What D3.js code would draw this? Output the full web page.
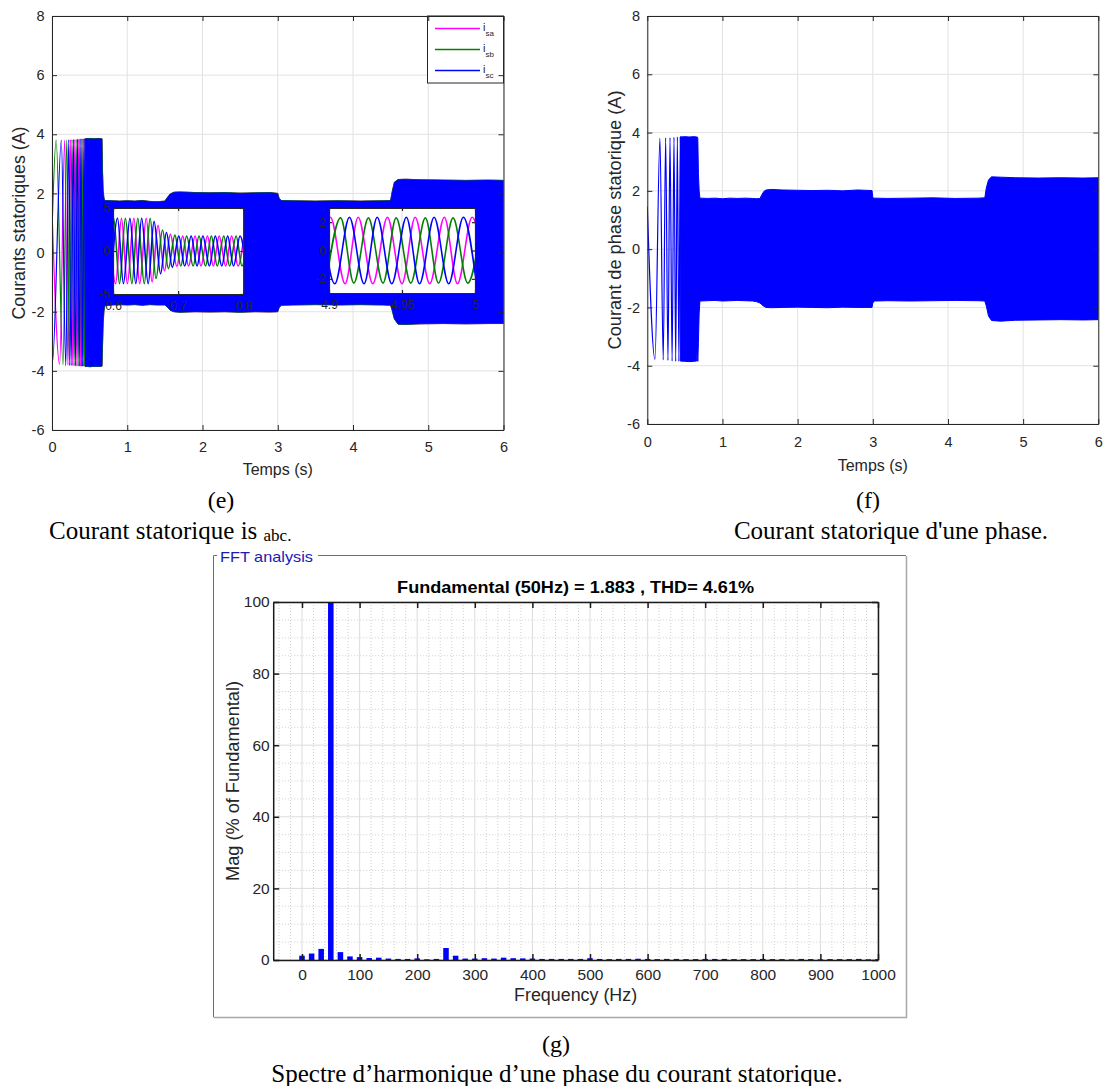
<!DOCTYPE html>
<html>
<head>
<meta charset="utf-8">
<script src="https://cdn.jsdelivr.net/npm/d3@7"></script>
<style>
  body { margin: 0; background: #ffffff; }
  svg { display: block; }
</style>
</head>
<body>
<svg id="fig" width="1104" height="1086"></svg>
<script>
const SANS = '"Liberation Sans", Arial, Helvetica, sans-serif';
const SERIF = '"Liberation Serif", "Times New Roman", serif';
const INK = '#262626';

// ---------------- time-domain data ----------------
const timeTicks = [0, 1, 2, 3, 4, 5, 6];
const currentTicks = [-6, -4, -2, 0, 2, 4, 6, 8];
const phaseLabels = ['sa', 'sb', 'sc'];
const phaseColors = ['#ff00ff', '#008000', '#0000ff'];

// start-up swings (time s, current A) at each visible extremum, phases a, b, c
const startA = [[0, 1.46], [0.102, -3.78], [0.168, 3.8], [0.212, -3.8], [0.244, 3.82], [0.275, -3.82], [0.302, 3.83],
  [0.33, -3.84], [0.355, 3.84], [0.378, -3.85], [0.4, 3.85], [0.42, -3.85], [0.44, 3.85], [0.46, -3.85]];
const startB = [[0, 0.7], [0.055, 3.8], [0.146, -3.8], [0.197, 3.8], [0.233, -3.82], [0.265, 3.82], [0.293, -3.83],
  [0.321, 3.83], [0.347, -3.84], [0.37, 3.84], [0.393, -3.85], [0.413, 3.85], [0.433, -3.85], [0.453, 3.85], [0.473, -3.85]];
const startC = [[0, -3.2], [0.006, -3.72], [0.124, 3.8], [0.183, -3.82], [0.223, 3.82], [0.254, -3.82], [0.284, 3.83],
  [0.311, -3.83], [0.338, 3.84], [0.363, -3.84], [0.385, 3.85], [0.407, -3.85], [0.427, 3.85], [0.447, -3.85], [0.467, 3.85]];

// steady-state envelope of the three stator currents (upper / lower peaks)
const envAbcTime = [0.44, 0.5, 0.56, 0.62, 0.665, 0.672, 0.68, 0.69, 0.70, 0.8, 0.9, 1.0, 1.1, 1.2, 1.3, 1.4, 1.5,
  1.53, 1.57, 1.62, 1.7, 1.9, 2.1, 2.3, 2.5, 2.7, 2.9, 3.0, 3.02, 3.05, 3.2, 3.5, 3.8, 4.1, 4.4, 4.5,
  4.52, 4.55, 4.6, 4.7, 4.9, 5.2, 5.5, 5.8, 6.0];
const envAbcHigh = [3.85, 3.86, 3.85, 3.86, 3.85, 2.7, 2.1, 1.85, 1.76, 1.75, 1.74, 1.75, 1.74, 1.76, 1.73, 1.72, 1.74,
  1.85, 1.98, 2.04, 2.05, 2.03, 2.02, 2.03, 2.01, 2.02, 2.03, 2.0, 1.82, 1.76, 1.75, 1.74, 1.75, 1.74, 1.75, 1.76,
  2.05, 2.38, 2.47, 2.48, 2.46, 2.45, 2.44, 2.45, 2.44];
const envAbcLow = [-3.84, -3.86, -3.85, -3.85, -3.84, -3.1, -2.4, -2.0, -1.8, -1.77, -1.76, -1.77, -1.76, -1.78, -1.76, -1.77, -1.77,
  -1.84, -1.95, -2.0, -2.02, -2.0, -2.01, -2.0, -2.02, -2.0, -2.01, -2.0, -1.85, -1.78, -1.77, -1.76, -1.77, -1.76, -1.77, -1.78,
  -1.95, -2.25, -2.42, -2.43, -2.41, -2.4, -2.41, -2.4, -2.4];

// envelope of the single phase current
const envPhaseTime = [0.44, 0.5, 0.56, 0.62, 0.655, 0.665, 0.672, 0.68, 0.69, 0.70, 0.8, 0.9, 1.0, 1.1, 1.2, 1.3, 1.4,
  1.45, 1.5, 1.52, 1.55, 1.58, 1.65, 1.8, 2.0, 2.2, 2.4, 2.6, 2.8, 2.99, 3.0, 3.02, 3.2, 3.5, 3.8, 4.1, 4.4, 4.49,
  4.51, 4.54, 4.58, 4.7, 4.9, 5.2, 5.5, 5.8, 6.0];
const envPhaseHigh = [3.85, 3.86, 3.85, 3.86, 3.85, 3.85, 3.8, 2.6, 2.0, 1.75, 1.74, 1.75, 1.73, 1.75, 1.74, 1.75, 1.74,
  1.73, 1.74, 1.85, 1.98, 2.03, 2.05, 2.03, 2.02, 2.01, 2.02, 2.0, 2.03, 2.01, 1.76, 1.75, 1.74, 1.75, 1.76, 1.74, 1.75, 1.76,
  2.1, 2.38, 2.48, 2.47, 2.45, 2.44, 2.45, 2.44, 2.45];
const envPhaseLow = [-3.84, -3.85, -3.86, -3.85, -3.84, -3.3, -3.85, -3.2, -2.2, -1.78, -1.77, -1.76, -1.78, -1.77, -1.76, -1.77, -1.78,
  -1.8, -1.85, -1.9, -1.96, -2.0, -2.01, -2.0, -1.99, -2.0, -2.01, -1.99, -2.0, -2.0, -1.85, -1.78, -1.77, -1.78, -1.77, -1.76, -1.77, -1.78,
  -1.95, -2.3, -2.45, -2.47, -2.44, -2.43, -2.42, -2.43, -2.42];

// zoom 0.6 s - 0.8 s : extrema of each phase
const zoomLoadA = [[0.594, 3.8], [0.604, -3.8], [0.613, 3.8], [0.622, -3.8], [0.632, 3.8], [0.641, -3.8], [0.651, 3.8],
  [0.660, -3.6], [0.669, 3.0], [0.679, -2.3], [0.688, 1.95], [0.698, -1.8], [0.707, 1.75], [0.716, -1.75], [0.726, 1.75],
  [0.735, -1.75], [0.745, 1.75], [0.754, -1.75], [0.763, 1.75], [0.773, -1.75], [0.782, 1.75], [0.792, -1.75], [0.801, 1.75]];
const zoomLoadB = [[0.591, -3.8], [0.601, 3.8], [0.610, -3.8], [0.619, 3.8], [0.629, -3.8], [0.638, 3.8], [0.648, -3.8],
  [0.657, 3.8], [0.666, -3.2], [0.676, 2.45], [0.685, -2.05], [0.695, 1.85], [0.704, -1.75], [0.713, 1.75], [0.723, -1.75],
  [0.732, 1.75], [0.742, -1.75], [0.751, 1.75], [0.760, -1.75], [0.770, 1.75], [0.779, -1.75], [0.789, 1.75], [0.798, -1.75], [0.807, 1.75]];
const zoomLoadC = [[0.597, -3.8], [0.607, 3.8], [0.616, -3.8], [0.626, 3.8], [0.635, -3.8], [0.644, 3.8], [0.654, -3.8],
  [0.663, 3.45], [0.673, -2.65], [0.682, 2.15], [0.691, -1.9], [0.701, 1.75], [0.710, -1.75], [0.720, 1.75], [0.729, -1.75],
  [0.738, 1.75], [0.748, -1.75], [0.757, 1.75], [0.767, -1.75], [0.776, 1.75], [0.785, -1.75], [0.795, 1.75], [0.804, -1.75]];

// zoom 4.9 s - 5.0 s : extrema of each phase
const zoomSteadyA = [[4.891, -2.35], [4.901, 2.35], [4.911, -2.35], [4.920, 2.35], [4.930, -2.35], [4.940, 2.35], [4.950, -2.35],
  [4.959, 2.35], [4.969, -2.35], [4.979, 2.35], [4.988, -2.35], [4.998, 2.35], [5.008, -2.35]];
const zoomSteadyB = [[4.898, -2.3], [4.908, 2.3], [4.917, -2.3], [4.927, 2.3], [4.937, -2.3], [4.946, 2.3], [4.956, -2.3],
  [4.966, 2.3], [4.975, -2.3], [4.985, 2.3], [4.995, -2.3], [5.005, 2.3]];
const zoomSteadyC = [[4.895, 2.35], [4.904, -2.35], [4.914, 2.35], [4.924, -2.35], [4.933, 2.35], [4.943, -2.35], [4.953, 2.35],
  [4.962, -2.35], [4.972, 2.35], [4.982, -2.35], [4.992, 2.35], [5.001, -2.35]];

// ---------------- spectrum data ----------------
const fftFreq = [0, 16.7, 33.3, 50, 66.7, 83.3, 100, 116.7, 133.3, 150, 166.7, 183.3, 200, 216.7, 233.3, 250,
  266.7, 283.3, 300, 316.7, 333.3, 350, 366.7, 383.3, 400, 416.7, 433.3, 450, 466.7, 483.3, 500, 516.7, 533.3,
  550, 566.7, 583.3, 600, 616.7, 633.3, 650, 666.7, 683.3, 700, 716.7, 733.3, 750, 766.7, 783.3, 800, 816.7,
  833.3, 850, 866.7, 883.3, 900, 916.7, 933.3, 950, 966.7, 983.3, 1000];
const fftMag = [1.2, 1.8, 3.1, 100, 2.2, 1.0, 0.8, 0.55, 0.65, 0.4, 0.3, 0.3, 0.45, 0.2, 0.3, 3.35,
  1.2, 0.4, 0.4, 0.5, 0.4, 0.65, 0.5, 0.45, 0.4, 0.3, 0.3, 0.3, 0.3, 0.3, 0.5, 0.3, 0.25,
  0.3, 0.3, 0.35, 0.3, 0.25, 0.3, 0.3, 0.25, 0.25, 0.3, 0.3, 0.3, 0.25, 0.25, 0.25, 0.3, 0.25,
  0.25, 0.2, 0.3, 0.25, 0.2, 0.25, 0.25, 0.25, 0.3, 0.2, 0.25];
const freqTicks = [0, 100, 200, 300, 400, 500, 600, 700, 800, 900, 1000];
const magTicks = [0, 20, 40, 60, 80, 100];

// ---------------- helpers ----------------
const svg = d3.select('#fig');
const defs = svg.append('defs');

function addClip(id, x0, y0, x1, y1) {
  defs.append('clipPath').attr('id', id).append('rect')
    .attr('x', x0).attr('y', y0).attr('width', x1 - x0).attr('height', y1 - y0);
}
function zipEnvelope(ts, hs, ls) {
  return ts.map((t, i) => ({ t: t, hi: hs[i], lo: ls[i] }));
}
function styleAxis(sel, fs, width) {
  sel.attr('font-family', SANS).attr('font-size', fs).attr('color', INK);
  sel.selectAll('path.domain').attr('stroke-width', width || 1);
  sel.selectAll('.tick line').attr('stroke-width', width || 1);
  return sel;
}

function timePanel(p) {
  const x = d3.scaleLinear().domain([0, 6]).range([p.left, p.right]);
  const y = d3.scaleLinear().domain([-6, 8]).range([p.bottom, p.top]);
  const g = svg.append('g');
  addClip(p.id + '-clip', p.left, p.top, p.right, p.bottom);

  const grid = g.append('g').attr('stroke', '#e2e2e2').attr('stroke-width', 1);
  grid.selectAll('line.gx').data(timeTicks).join('line').attr('class', 'gx')
    .attr('x1', d => x(d)).attr('x2', d => x(d)).attr('y1', p.top).attr('y2', p.bottom);
  grid.selectAll('line.gy').data(currentTicks).join('line').attr('class', 'gy')
    .attr('x1', p.left).attr('x2', p.right).attr('y1', d => y(d)).attr('y2', d => y(d));

  const data = g.append('g').attr('clip-path', `url(#${p.id}-clip)`);
  const swing = d3.line().x(d => x(d[0])).y(d => y(d[1])).curve(d3.curveMonotoneX);
  const band = d3.area().x(d => x(d.t)).y0(d => y(d.lo)).y1(d => y(d.hi));
  p.series.forEach(s => {
    data.append('path').attr('d', swing(s.start)).attr('fill', 'none')
      .attr('stroke', s.color).attr('stroke-width', 1.2);
    data.append('path').attr('d', band(s.env)).attr('fill', s.color)
      .attr('stroke', s.edge ? s.color : 'none').attr('stroke-width', 1);
  });

  const over = g.append('g');
  if (p.extra) p.extra(over);

  const fmt = d => String(d);
  styleAxis(g.append('g').attr('transform', `translate(0,${p.bottom})`)
    .call(d3.axisBottom(x).tickValues(timeTicks).tickSizeInner(-5).tickSizeOuter(0).tickPadding(p.xPad).tickFormat(fmt)), 14.5);
  styleAxis(g.append('g').attr('transform', `translate(0,${p.top})`)
    .call(d3.axisTop(x).tickValues(timeTicks).tickSizeInner(-5).tickSizeOuter(0).tickFormat('')), 14.5);
  styleAxis(g.append('g').attr('transform', `translate(${p.left},0)`)
    .call(d3.axisLeft(y).tickValues(currentTicks).tickSizeInner(-5).tickSizeOuter(0).tickPadding(p.yPad).tickFormat(fmt)), 14.5);
  styleAxis(g.append('g').attr('transform', `translate(${p.right},0)`)
    .call(d3.axisRight(y).tickValues(currentTicks).tickSizeInner(-5).tickSizeOuter(0).tickFormat('')), 14.5);

  g.append('text').attr('x', (p.left + p.right) / 2).attr('y', p.xLabelY)
    .attr('text-anchor', 'middle').attr('font-family', SANS).attr('font-size', 16).attr('fill', INK)
    .text('Temps (s)');
  g.append('text').attr('transform', `translate(${p.yLabelX},${(p.top + p.bottom) / 2}) rotate(-90)`)
    .attr('text-anchor', 'middle').attr('font-family', SANS).attr('font-size', 17.5).attr('fill', INK)
    .attr('textLength', p.yLabelLen).attr('lengthAdjust', 'spacingAndGlyphs')
    .text(p.yLabel);
  return g;
}

function insetPanel(layer, p) {
  const x = d3.scaleLinear().domain(p.xDom).range([p.x0, p.x1]);
  const y = d3.scaleLinear().domain(p.yDom).range([p.y1, p.y0]);
  const g = layer.append('g');
  addClip(p.id, p.x0, p.y0, p.x1, p.y1);
  g.append('rect').attr('x', p.x0).attr('y', p.y0).attr('width', p.x1 - p.x0).attr('height', p.y1 - p.y0)
    .attr('fill', '#ffffff');
  g.append('g').selectAll('line').data(p.xGrid).join('line')
    .attr('x1', d => x(d)).attr('x2', d => x(d)).attr('y1', p.y0).attr('y2', p.y1)
    .attr('stroke', '#dedede').attr('stroke-width', 1);
  const wave = d3.line().x(d => x(d[0])).y(d => y(d[1])).curve(d3.curveMonotoneX);
  g.append('g').attr('clip-path', `url(#${p.id})`).selectAll('path').data(p.series).join('path')
    .attr('d', d => wave(d.pts)).attr('fill', 'none').attr('stroke', d => d.color).attr('stroke-width', 1.6);
  const xf = d3.format('~g');
  const yf = d => String(d);
  styleAxis(g.append('g').attr('transform', `translate(0,${p.y1})`)
    .call(d3.axisBottom(x).tickValues(p.xTicks).tickSizeInner(-3).tickSizeOuter(0).tickPadding(7.5).tickFormat(xf)), 12, 1.2);
  styleAxis(g.append('g').attr('transform', `translate(0,${p.y0})`)
    .call(d3.axisTop(x).tickValues(p.xTicks).tickSizeInner(-3).tickSizeOuter(0).tickFormat('')), 12, 1.2);
  styleAxis(g.append('g').attr('transform', `translate(${p.x0},0)`)
    .call(d3.axisLeft(y).tickValues(p.yTicks).tickSizeInner(-3).tickSizeOuter(0).tickPadding(3).tickFormat(yf)), 12, 1.2);
  styleAxis(g.append('g').attr('transform', `translate(${p.x1},0)`)
    .call(d3.axisRight(y).tickValues(p.yTicks).tickSizeInner(-3).tickSizeOuter(0).tickFormat('')), 12, 1.2);
}

// ---------------- (e) three stator currents ----------------
const envAbc = zipEnvelope(envAbcTime, envAbcHigh, envAbcLow);
timePanel({
  id: 'abc', left: 52, right: 503.5, top: 16, bottom: 430, xPad: 11.5, yPad: 7.5,
  xLabelY: 474.5, yLabelX: 24.5, yLabelLen: 193, yLabel: 'Courants statoriques (A)',
  series: [
    { color: phaseColors[0], start: startA, env: envAbc, edge: true },
    { color: phaseColors[1], start: startB, env: envAbc, edge: true },
    { color: phaseColors[2], start: startC, env: envAbc, edge: false }
  ],
  extra: layer => {
    insetPanel(layer, {
      id: 'zoom-load', x0: 113, x1: 243.3, y0: 208, y1: 294, xDom: [0.6, 0.8], yDom: [-5, 5],
      xTicks: [0.6, 0.7, 0.8], yTicks: [-5, 0, 5], xGrid: [0.7],
      series: [
        { color: phaseColors[0], pts: zoomLoadA },
        { color: phaseColors[1], pts: zoomLoadB },
        { color: phaseColors[2], pts: zoomLoadC }
      ]
    });
    insetPanel(layer, {
      id: 'zoom-steady', x0: 329, x1: 475, y0: 208, y1: 293, xDom: [4.9, 5.0], yDom: [-3, 3],
      xTicks: [4.9, 4.95, 5], yTicks: [-2, 0, 2], xGrid: [4.95],
      series: [
        { color: phaseColors[0], pts: zoomSteadyA },
        { color: phaseColors[1], pts: zoomSteadyB },
        { color: phaseColors[2], pts: zoomSteadyC }
      ]
    });
    // legend
    const lg = layer.append('g');
    lg.append('rect').attr('x', 427.5).attr('y', 16).attr('width', 76).attr('height', 67)
      .attr('fill', '#ffffff').attr('stroke', INK).attr('stroke-width', 1);
    const rows = lg.selectAll('g.row').data(phaseLabels).join('g').attr('class', 'row')
      .attr('transform', (d, i) => `translate(0,${28.5 + i * 21})`);
    rows.append('line').attr('x1', 435).attr('x2', 480).attr('y1', 0).attr('y2', 0)
      .attr('stroke', (d, i) => phaseColors[i]).attr('stroke-width', 1.5);
    const lt = rows.append('text').attr('x', 483).attr('y', 2.5)
      .attr('font-family', SANS).attr('font-size', 11).attr('fill', INK);
    lt.append('tspan').text('i');
    lt.append('tspan').attr('font-size', 8).attr('dy', 5).text(d => d);
  }
});

// ---------------- (f) one phase current ----------------
const envPhase = zipEnvelope(envPhaseTime, envPhaseHigh, envPhaseLow);
timePanel({
  id: 'one', left: 647.3, right: 1098.3, top: 16, bottom: 424, xPad: 13, yPad: 7.3,
  xLabelY: 471, yLabelX: 621, yLabelLen: 259, yLabel: 'Courant de phase statorique (A)',
  series: [{ color: '#0000ff', start: startA, env: envPhase, edge: true }]
});

// ---------------- (g) FFT spectrum ----------------
(function spectrum() {
  const left = 273.2, right = 878, top = 602, bottom = 960;
  const x = d3.scaleLinear().domain([-50, 1000]).range([left, right]);
  const y = d3.scaleLinear().domain([0, 100]).range([bottom, top]);
  const g = svg.append('g');

  // panel frame
  const frame = g.append('g').attr('fill', 'none');
  frame.append('path').attr('d', 'M217,555.5 H213.5 V1017').attr('stroke', '#6e6e6e').attr('stroke-width', 1);
  frame.append('path').attr('d', 'M318,555.5 H906').attr('stroke', '#6e6e6e').attr('stroke-width', 1);
  frame.append('path').attr('d', 'M906.5,556 V1017.5 H213.5').attr('stroke', '#a8a8a8').attr('stroke-width', 1.5);
  g.append('text').attr('x', 220).attr('y', 561.5).attr('font-family', SANS).attr('font-size', 15)
    .attr('fill', '#1a1ab4').attr('textLength', 93).attr('lengthAdjust', 'spacingAndGlyphs').text('FFT analysis');

  g.append('rect').attr('x', left).attr('y', top).attr('width', right - left).attr('height', bottom - top).attr('fill', '#ffffff');

  // minor grid (dotted), then major grid
  const minorX = d3.range(-40, 1000, 20).filter(v => v % 100 !== 0);
  const minorY = d3.range(5, 100, 5).filter(v => v % 20 !== 0);
  const mg = g.append('g').attr('stroke', '#c4c4c4').attr('stroke-width', 0.8).attr('stroke-dasharray', '1,2');
  mg.selectAll('line.mx').data(minorX).join('line').attr('class', 'mx')
    .attr('x1', d => x(d)).attr('x2', d => x(d)).attr('y1', top).attr('y2', bottom);
  mg.selectAll('line.my').data(minorY).join('line').attr('class', 'my')
    .attr('x1', left).attr('x2', right).attr('y1', d => y(d)).attr('y2', d => y(d));
  const Mg = g.append('g').attr('stroke', '#dcdcdc').attr('stroke-width', 1);
  Mg.selectAll('line.Mx').data(freqTicks).join('line').attr('class', 'Mx')
    .attr('x1', d => x(d)).attr('x2', d => x(d)).attr('y1', top).attr('y2', bottom);
  Mg.selectAll('line.My').data(magTicks).join('line').attr('class', 'My')
    .attr('x1', left).attr('x2', right).attr('y1', d => y(d)).attr('y2', d => y(d));

  // bars
  addClip('fft-clip', left, top, right, bottom);
  const half = (x(9.6) - x(0)) / 2;
  g.append('g').attr('clip-path', 'url(#fft-clip)').selectAll('rect').data(fftFreq).join('rect')
    .attr('x', d => x(d) - half).attr('width', half * 2)
    .attr('y', (d, i) => y(fftMag[i])).attr('height', (d, i) => y(0) - y(fftMag[i]))
    .attr('fill', '#0000ff');

  // axes
  const fmt = d => String(d);
  styleAxis(g.append('g').attr('transform', `translate(0,${bottom})`)
    .call(d3.axisBottom(x).tickValues(freqTicks).tickSizeInner(-6).tickSizeOuter(0).tickPadding(9).tickFormat(fmt)), 15.5, 1.5)
    .attr('color', '#1a1a1a');
  styleAxis(g.append('g').attr('transform', `translate(0,${top})`)
    .call(d3.axisTop(x).tickValues(freqTicks).tickSizeInner(-6).tickSizeOuter(0).tickFormat('')), 15.5, 1.5)
    .attr('color', '#1a1a1a');
  styleAxis(g.append('g').attr('transform', `translate(${left},0)`)
    .call(d3.axisLeft(y).tickValues(magTicks).tickSizeInner(-6).tickSizeOuter(0).tickPadding(3.5).tickFormat(fmt)), 15.5, 1.5)
    .attr('color', '#1a1a1a');
  styleAxis(g.append('g').attr('transform', `translate(${right},0)`)
    .call(d3.axisRight(y).tickValues(magTicks).tickSizeInner(-6).tickSizeOuter(0).tickFormat('')), 15.5, 1.5)
    .attr('color', '#1a1a1a');
  g.selectAll('.tick text').attr('fill', INK);

  g.append('text').attr('x', (left + right) / 2).attr('y', 592.5).attr('text-anchor', 'middle')
    .attr('font-family', SANS).attr('font-size', 17).attr('font-weight', 'bold').attr('fill', '#000000')
    .attr('textLength', 357).attr('lengthAdjust', 'spacingAndGlyphs')
    .text('Fundamental (50Hz) = 1.883 , THD= 4.61%');
  g.append('text').attr('x', (left + right) / 2).attr('y', 1001).attr('text-anchor', 'middle')
    .attr('font-family', SANS).attr('font-size', 18).attr('fill', INK)
    .attr('textLength', 123).attr('lengthAdjust', 'spacingAndGlyphs').text('Frequency (Hz)');
  g.append('text').attr('transform', `translate(239,${(top + bottom) / 2}) rotate(-90)`).attr('text-anchor', 'middle')
    .attr('font-family', SANS).attr('font-size', 18).attr('fill', INK)
    .attr('textLength', 200).attr('lengthAdjust', 'spacingAndGlyphs').text('Mag (% of Fundamental)');
})();

// ---------------- captions ----------------
const cap = svg.append('g').attr('font-family', SERIF).attr('fill', '#000000');
cap.append('text').attr('x', 221).attr('y', 508).attr('text-anchor', 'middle').attr('font-size', 24).text('(e)');
const ce = cap.append('text').attr('x', 49).attr('y', 539).attr('font-size', 25);
ce.append('tspan').text('Courant statorique is ');
ce.append('tspan').attr('font-size', 17).attr('dy', 2).text('abc.');
cap.append('text').attr('x', 868).attr('y', 508).attr('text-anchor', 'middle').attr('font-size', 24).text('(f)');
cap.append('text').attr('x', 891).attr('y', 539).attr('text-anchor', 'middle').attr('font-size', 25)
  .text("Courant statorique d'une phase.");
cap.append('text').attr('x', 556).attr('y', 1052).attr('text-anchor', 'middle').attr('font-size', 24).text('(g)');
cap.append('text').attr('x', 557).attr('y', 1082).attr('text-anchor', 'middle').attr('font-size', 25)
  .text('Spectre d’harmonique d’une phase du courant statorique.');
</script>
</body>
</html>
